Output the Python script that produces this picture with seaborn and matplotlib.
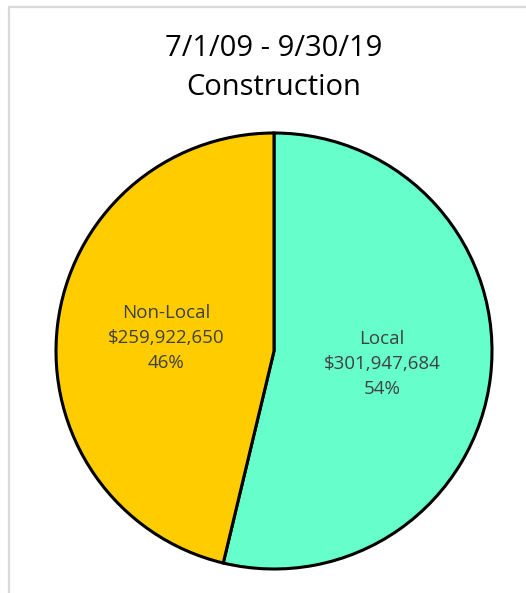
import matplotlib
matplotlib.use("Agg")
import matplotlib.pyplot as plt
import seaborn as sns
from matplotlib.patches import Rectangle

# -----------------------------
# Data
# -----------------------------
categories = ["Local", "Non-Local"]
amounts = [301947684, 259922650]
colors = ["#66FFCC", "#FFCC00"]
title_lines = ["7/1/09 - 9/30/19", "Construction"]

total = sum(amounts)
labels = [
    f"{c}\n${a:,.0f}\n{a / total * 100:.0f}%"
    for c, a in zip(categories, amounts)
]

# -----------------------------
# Figure
# -----------------------------
sns.set_theme(style="white")
plt.rcParams["font.family"] = ["Open Sans", "DejaVu Sans"]

W, H = 526, 593
fig = plt.figure(figsize=(W / 100, H / 100), dpi=100)
fig.patch.set_facecolor("white")

# chart area border (light gray, runs off right/bottom edges)
fig.patches.append(Rectangle((9 / W, -0.05), 1.1, (H - 7) / H + 0.05,
                             transform=fig.transFigure, fill=False,
                             edgecolor="#D9D9D9", linewidth=1.6))

# pie axes: centre ~ (274, 350), radius ~ 218 px
r = 218
cx, cy = 274, 351
ax = fig.add_axes([(cx - r) / W, (H - cy - r) / H, 2 * r / W, 2 * r / H])

ax.pie(
    amounts,
    labels=labels,
    colors=colors,
    startangle=90,
    counterclock=False,
    labeldistance=0.5,
    wedgeprops={"edgecolor": "black", "linewidth": 2.2},
    textprops={"ha": "center", "va": "center", "color": "#404040",
               "fontsize": 13.5, "linespacing": 1.5},
)
ax.set_aspect("auto")
ax.set_xlim(-1.0, 1.0)
ax.set_ylim(-1.0, 1.0)
ax.axis("off")

fig.text(cx / W, 1 - 68 / H, "\n".join(title_lines), ha="center",
         va="center", fontsize=21, color="black", linespacing=1.48)

fig.savefig("out.png", dpi=100, facecolor="white")
plt.close(fig)
